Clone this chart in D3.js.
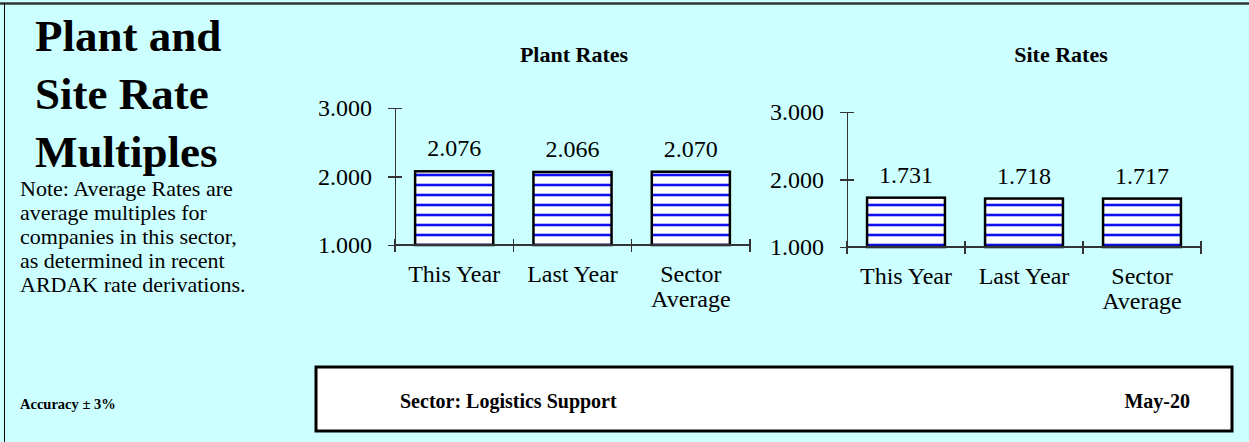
<!DOCTYPE html>
<head>
	<meta charset="utf-8">
	<style>
		body { margin: 0; background: #ccffff; }
		svg { display: block; background: #ccffff; }
		text { font-family: "Liberation Serif", "Times New Roman", serif; fill: #000; }
		.axis line, .axis path { stroke: #333; stroke-width: 1.2px; fill: none; shape-rendering: crispEdges; }
		.bar { stroke: #000; stroke-width: 2.5px; }
	</style>
	<title>Plant and Site Rate Multiples</title>
	<script src="https://d3js.org/d3.v7.min.js"></script>
</head>

<body>
	<div id="chart"></div>
	<script>
		// data
		var categories = ["This Year", "Last Year", "Sector Average"];
		var categoryLines = [["This Year"], ["Last Year"], ["Sector", "Average"]];
		var plantRates = [2.076, 2.066, 2.070];
		var siteRates = [1.731, 1.718, 1.717];
		var yTicks = [1, 2, 3];
		var titleLines = ["Plant and", "Site Rate", "Multiples"];
		var noteLines = ["Note: Average Rates are", "average multiples for", "companies in this sector,",
			"as determined in recent", "ARDAK rate derivations."];
		var sectorName = "Sector: Logistics Support";
		var reportDate = "May-20";
		var accuracy = "Accuracy \u00b1 3%";

		var W = 1249, H = 442;
		var svg = d3.select("#chart").append("svg")
			.attr("width", W)
			.attr("height", H);

		// stripe fill for bars
		var defs = svg.append("defs");
		var pat = defs.append("pattern")
			.attr("id", "stripes")
			.attr("patternUnits", "userSpaceOnUse")
			.attr("width", 8)
			.attr("height", 10);
		pat.append("rect").attr("width", 8).attr("height", 10).attr("fill", "#fff");
		pat.append("rect").attr("y", 3).attr("width", 8).attr("height", 4).attr("fill", "#b8b8ff");
		pat.append("rect").attr("y", 4).attr("width", 8).attr("height", 2).attr("fill", "#1010ee");

		// frame
		svg.append("line").attr("x1", 0).attr("x2", W).attr("y1", 3.5).attr("y2", 3.5)
			.attr("stroke", "#333").attr("stroke-width", 2.5);
		svg.append("line").attr("x1", 4.5).attr("x2", 4.5).attr("y1", 3).attr("y2", H)
			.attr("stroke", "#000").attr("stroke-width", 1);

		// big title
		svg.append("g").selectAll("text")
			.data(titleLines)
			.enter().append("text")
			.attr("x", 35)
			.attr("y", function (d, i) { return 51 + i * 58; })
			.style("font-size", "45px")
			.style("font-weight", "bold")
			.text(function (d) { return d; });

		svg.append("g").selectAll("text")
			.data(noteLines)
			.enter().append("text")
			.attr("x", 20)
			.attr("y", function (d, i) { return 196 + i * 24; })
			.style("font-size", "22px")
			.text(function (d) { return d; });

		svg.append("text")
			.attr("x", 20)
			.attr("y", 409)
			.style("font-size", "14.5px")
			.style("font-weight", "bold")
			.text(accuracy);

		function drawChart(values, title, titleX, left, right, top, bottom) {
			var x = d3.scaleBand().domain(categories).range([left, right]).padding(0);
			var y = d3.scaleLinear().domain([1, 3]).range([bottom, top]);
			var g = svg.append("g");

			g.append("text")
				.attr("x", titleX)
				.attr("y", 62)
				.attr("text-anchor", "middle")
				.style("font-size", "22px")
				.style("font-weight", "bold")
				.text(title);

			var bw = x.bandwidth() * 0.66;
			g.selectAll(".bar")
				.data(values)
				.enter().append("rect")
				.attr("class", "bar")
				.attr("x", function (d, i) { return x(categories[i]) + (x.bandwidth() - bw) / 2; })
				.attr("y", function (d) { return y(d); })
				.attr("width", bw)
				.attr("height", function (d) { return y(1) - y(d); })
				.attr("fill", "url(#stripes)");

			g.selectAll(".val")
				.data(values)
				.enter().append("text")
				.attr("class", "val")
				.attr("x", function (d, i) { return x(categories[i]) + x.bandwidth() / 2; })
				.attr("y", function (d) { return y(d) - 15; })
				.attr("text-anchor", "middle")
				.style("font-size", "24px")
				.text(function (d) { return d3.format(".3f")(d); });

			// y axis with crossing ticks
			var yAxis = g.append("g")
				.attr("class", "axis")
				.attr("transform", "translate(" + left + ",0)")
				.call(d3.axisLeft(y).tickValues(yTicks).tickFormat(d3.format(".3f")).tickSizeOuter(0).tickPadding(17));
			yAxis.selectAll(".tick line").attr("x1", -7).attr("x2", 7);
			yAxis.selectAll(".tick text").style("font-size", "24px").style("font-family", "Liberation Serif");

			// x axis with ticks at category boundaries
			var xAxis = g.append("g")
				.attr("class", "axis")
				.attr("transform", "translate(0," + y(1) + ")");
			xAxis.append("line").attr("x1", left).attr("x2", right);
			var bounds = categories.map(function (c) { return x(c); }).concat([x.range()[1]]);
			xAxis.selectAll(".xt")
				.data(bounds)
				.enter().append("line")
				.attr("x1", function (d) { return d; })
				.attr("x2", function (d) { return d; })
				.attr("y1", -6)
				.attr("y2", 7);

			var lab = g.selectAll(".cat")
				.data(categoryLines)
				.enter().append("text")
				.attr("class", "cat")
				.attr("text-anchor", "middle")
				.style("font-size", "24px");
			lab.selectAll("tspan")
				.data(function (d, i) { return d.map(function (s) { return { s: s, i: i }; }); })
				.enter().append("tspan")
				.attr("x", function (d) { return x(categories[d.i]) + x.bandwidth() / 2; })
				.attr("y", function (d, j) { return y(1) + 37 + j * 25; })
				.text(function (d) { return d.s; });
		}

		drawChart(plantRates, "Plant Rates", 574, 395, 750, 108, 245);
		drawChart(siteRates, "Site Rates", 1061, 847, 1201, 112, 247);

		// sector box
		svg.append("rect")
			.attr("x", 316).attr("y", 367)
			.attr("width", 916).attr("height", 64)
			.attr("fill", "#fff")
			.attr("stroke", "#000")
			.attr("stroke-width", 3);
		svg.append("text")
			.attr("x", 400).attr("y", 408)
			.style("font-size", "20px").style("font-weight", "bold")
			.text(sectorName);
		svg.append("text")
			.attr("x", 1190).attr("y", 408)
			.attr("text-anchor", "end")
			.style("font-size", "20px").style("font-weight", "bold")
			.text(reportDate);
	</script>
</body>
